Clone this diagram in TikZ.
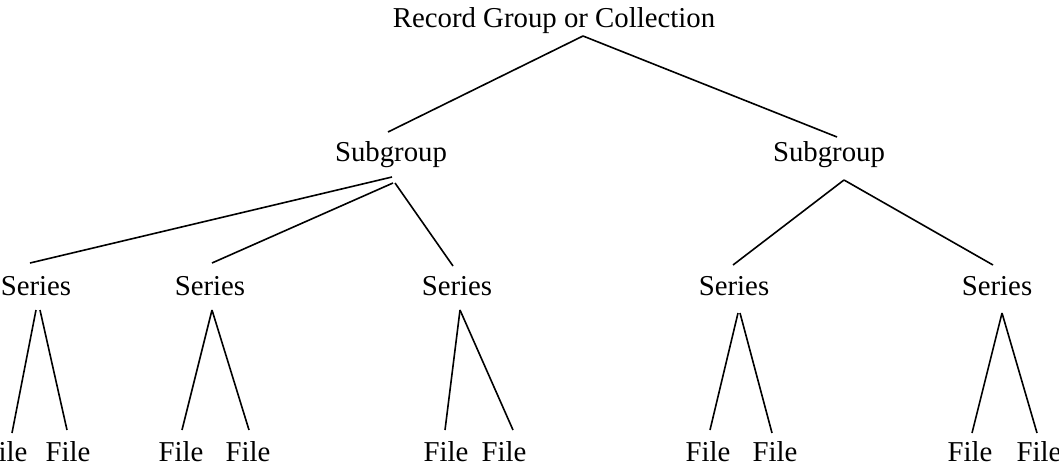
\documentclass[tikz,border=0pt]{standalone}
\usepackage{fontspec}
\setmainfont{Liberation Serif}
\usepackage{tikz}
\usetikzlibrary{positioning}

\tikzset{
    lbl/.style={inner sep=0pt, anchor=base, font=\fontsize{14.4}{17}\selectfont},
    edge/.style={line width=0.8pt}
}

\begin{document}
\begin{tikzpicture}[x=0.5pt, y=-0.5pt]

            \useasboundingbox (0,0) rectangle (1059,466);

            % Các nút
            \node[lbl] (root) at (554,27) {Record Group or Collection};
            \node[lbl] (sgL) at (391,161) {Subgroup};
            \node[lbl] (sgR) at (829,161) {Subgroup};

            \node[lbl] (s1) at (36,295) {Series};
            \node[lbl] (s2) at (210,295) {Series};
            \node[lbl] (s3) at (457,295) {Series};
            \node[lbl] (s4) at (734,295) {Series};
            \node[lbl] (s5) at (997,295) {Series};

            \node[lbl] (f11) at (5,461) {File};
            \node[lbl] (f12) at (68,461) {File};
            \node[lbl] (f21) at (181,461) {File};
            \node[lbl] (f22) at (248,461) {File};
            \node[lbl] (f31) at (446,461) {File};
            \node[lbl] (f32) at (504,461) {File};
            \node[lbl] (f41) at (708,461) {File};
            \node[lbl] (f42) at (775,461) {File};
            \node[lbl] (f51) at (970,461) {File};
            \node[lbl] (f52) at (1039,461) {File};

            % Các đường nối
            \draw[edge] ([shift={(29,9)}]root.base) -- ([shift={(-3,-29)}]sgL.base);
            \draw[edge] ([shift={(29,9)}]root.base) -- ([shift={(8,-24)}]sgR.base);

            \draw[edge] ([shift={(1,16)}]sgL.base) -- ([shift={(-6,-32)}]s1.base);
            \draw[edge] ([shift={(2,22)}]sgL.base) -- ([shift={(2,-32)}]s2.base);
            \draw[edge] ([shift={(4,22)}]sgL.base) -- ([shift={(-4,-29)}]s3.base);
            \draw[edge] ([shift={(15,19)}]sgR.base) -- ([shift={(-1,-30)}]s4.base);
            \draw[edge] ([shift={(15,19)}]sgR.base) -- ([shift={(-4,-30)}]s5.base);

            \draw[edge] ([shift={(0,15)}]s1.base) -- ([shift={(7,-28)}]f11.base);
            \draw[edge] ([shift={(4,15)}]s1.base) -- ([shift={(-1,-31)}]f12.base);
            \draw[edge] ([shift={(2,15)}]s2.base) -- ([shift={(1,-31)}]f21.base);
            \draw[edge] ([shift={(2,15)}]s2.base) -- ([shift={(1,-31)}]f22.base);
            \draw[edge] ([shift={(3,15)}]s3.base) -- ([shift={(-1,-31)}]f31.base);
            \draw[edge] ([shift={(3,15)}]s3.base) -- ([shift={(9,-31)}]f32.base);
            \draw[edge] ([shift={(4,18)}]s4.base) -- ([shift={(2,-31)}]f41.base);
            \draw[edge] ([shift={(6,18)}]s4.base) -- ([shift={(-3,-28)}]f42.base);
            \draw[edge] ([shift={(5,18)}]s5.base) -- ([shift={(2,-28)}]f51.base);
            \draw[edge] ([shift={(5,18)}]s5.base) -- ([shift={(-2,-28)}]f52.base);

\end{tikzpicture}
\end{document}
